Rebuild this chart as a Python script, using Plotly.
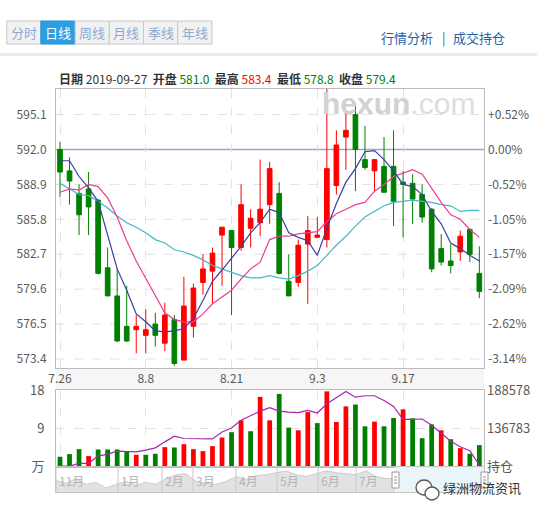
import plotly.graph_objects as go

W, H = 537, 509

# ---------------- data ----------------
dates = ["7.26", "7.29", "7.30", "7.31", "8.1", "8.2", "8.5", "8.6", "8.7", "8.8",
         "8.9", "8.12", "8.13", "8.14", "8.15", "8.16", "8.19", "8.20", "8.21", "8.22",
         "8.23", "8.26", "8.27", "8.28", "8.29", "8.30", "9.2", "9.3", "9.4", "9.5",
         "9.6", "9.9", "9.10", "9.11", "9.12", "9.16", "9.17", "9.18", "9.19", "9.20",
         "9.23", "9.24", "9.25", "9.26", "9.27"]

opens = [592.0, 590.1, 588.1, 588.5, 587.5, 581.5, 579.0, 576.3, 576.0, 575.5,
         576.5, 574.8, 576.9, 573.3, 576.3, 580.2, 581.2, 584.4, 584.8, 583.3,
         585.0, 585.5, 587.1, 588.1, 580.3, 580.2, 583.6, 584.2, 584.0, 588.8,
         593.1, 595.1, 591.1, 590.1, 590.5, 590.5, 589.1, 589.0, 588.0, 586.7,
         583.2, 582.1, 582.9, 584.9, 581.0]
highs = [592.7, 591.3, 588.9, 590.0, 587.6, 583.3, 581.4, 579.9, 577.3, 577.8,
         577.5, 578.4, 577.3, 580.7, 580.1, 582.7, 583.3, 585.1, 584.8, 588.9,
         586.7, 591.1, 590.9, 589.1, 582.7, 584.0, 586.1, 586.0, 597.5, 593.7,
         595.3, 596.1, 594.1, 591.1, 593.1, 593.7, 590.1, 589.8, 588.9, 586.8,
         584.5, 583.6, 584.8, 585.0, 583.4]
lows = [587.8, 587.1, 584.4, 584.4, 580.9, 579.0, 574.9, 574.9, 573.9, 573.9,
        574.5, 574.1, 572.8, 573.3, 575.3, 579.1, 578.3, 579.9, 577.3, 583.0,
        583.3, 584.3, 585.4, 580.9, 579.0, 579.8, 578.3, 584.2, 583.3, 588.0,
        590.2, 588.3, 590.2, 588.2, 588.2, 585.2, 584.2, 585.4, 585.5, 581.1,
        581.7, 581.0, 582.1, 582.0, 578.8]
closes = [590.0, 589.2, 586.2, 586.9, 581.0, 579.0, 575.0, 575.0, 576.3, 576.0,
          575.5, 577.3, 573.0, 578.1, 579.7, 581.4, 582.8, 585.1, 583.3, 587.1,
          585.9, 586.7, 590.3, 581.0, 579.0, 583.5, 584.8, 584.4, 590.3, 592.4,
          593.7, 592.0, 590.4, 591.1, 588.2, 587.4, 588.9, 587.6, 586.0, 581.4,
          582.0, 581.7, 584.3, 582.7, 579.4]

ma5 = [591.0, 591.0, 589.6, 588.6, 587.4, 584.3, 581.4, 579.5, 577.4, 576.7,
       575.9, 575.8, 575.9, 576.1, 577.0, 578.6, 580.3, 581.3, 582.3, 583.4,
       584.6, 585.5, 586.7, 586.4, 584.6, 584.2, 583.9, 582.6, 585.0, 587.2,
       589.1, 590.3, 591.8, 591.9, 591.1, 590.1, 588.9, 588.7, 588.0, 586.5,
       585.4, 583.7, 583.2, 582.6, 582.1]
ma10 = [588.2, 588.5, 588.4, 588.9, 588.7, 587.7, 586.0, 583.9, 582.1, 580.6,
        579.1, 577.5, 576.9, 576.7, 576.7, 577.4, 578.3, 578.9, 579.5, 580.5,
        581.4, 582.0, 584.0, 584.3, 584.3, 584.5, 584.6, 584.7, 585.6, 586.3,
        586.7, 587.1, 587.3, 588.3, 588.9, 589.6, 589.9, 590.2, 589.8, 588.5,
        587.3, 586.2, 585.8, 584.9, 584.2]
ma20 = [589.0, 588.5, 588.0, 587.9, 587.4, 586.8, 586.1, 585.5, 585.1, 584.6,
        584.0, 583.7, 583.1, 582.9, 582.6, 582.2, 581.7, 581.4, 581.1, 580.8,
        580.6, 580.6, 580.8, 580.6, 580.5, 580.8, 581.2, 581.7, 582.6, 583.5,
        584.3, 585.2, 586.0, 586.5, 587.0, 587.3, 587.4, 587.5, 587.4, 587.3,
        587.1, 587.0, 586.5, 586.6, 586.6]

volume_wan = [2.35, 2.98, 4.15, 2.51, 4.07, 4.07, 4.07, 3.68, 2.82, 2.82,
              3.05, 4.62, 4.54, 5.32, 4.15, 3.68, 4.86, 6.9, 8.15, 10.96,
              8.38, 16.5, 10.96, 17.2, 9.24, 8.6, 12.9, 10.3, 17.8, 10.56,
              14.25, 14.7, 9.55, 10.65, 9.55, 11.5, 13.55, 11.43, 6.74, 10.0,
              8.6, 6.5, 4.39, 3.05, 5.1]
volume_up = [0, 0, 0, 1, 0, 0, 0, 0, 1, 0,
             0, 1, 0, 1, 1, 1, 1, 1, 0, 1,
             0, 1, 1, 0, 0, 1, 1, 0, 1, 1,
             1, 0, 0, 1, 0, 0, 1, 0, 0, 0,
             1, 0, 1, 0, 0]
open_interest = [85900, 85900, 89580, 89580, 99440, 102140, 106190, 105250, 105250, 107540,
                 110650, 118750, 126450, 123350, 123350, 122800, 122800, 132260, 137660, 148060,
                 154810, 160620, 165210, 160620, 159270, 158460, 161570, 157920, 170620, 178720,
                 187230, 179530, 181420, 181420, 175070, 166970, 149410, 149410, 149820, 141310,
                 130100, 119700, 112000, 106600, 87280]

prev_settle = 592.0
price_ticks = [573.4, 576.5, 579.6, 582.7, 585.8, 588.9, 592.0, 595.1]
date_ticks = ["7.26", "8.8", "8.21", "9.3", "9.17"]
vol_ticks = [0, 9, 18]
vol_tick_text = ["万", "9", "18"]
oi_ticks = [84988, 136783, 188578]
oi_tick_text = ["持仓", "136783", "188578"]

nav_index = list(range(0, 215, 5))
nav_close = [569, 563, 573, 561, 565, 553, 561, 567, 559, 565,
             561, 573, 581, 583, 567, 563, 561, 567, 577, 571,
             579, 581, 585, 589, 581, 577, 583, 589, 585, 583,
             581, 589, 577, 573, 573, 575, 571, 575, 577, 575,
             573, 575, 573]
nav_months = ["11月", "1月", "2月", "3月", "4月", "5月", "6月", "7月"]
nav_month_pos = [0, 31, 53, 68.5, 90, 110.5, 131, 150]
nav_window_start = 169.5

tabs = ["分时", "日线", "周线", "月线", "季线", "年线"]
active_tab = "日线"
header = {"日期": "2019-09-27", "开盘": "581.0", "最高": "583.4", "最低": "578.8", "收盘": "579.4"}
header_colors = {"日期": "#333333", "开盘": "#008000", "最高": "#ff0000", "最低": "#008000", "收盘": "#008000"}

# ---------------- helpers ----------------
FONT = "Noto Sans CJK SC, Noto Sans, sans-serif"
RED = "#ff0000"
GREEN = "#008000"
GRID = "#e2e2e2"


def fx(px):
    return px / W


def fy(py):
    return 1 - py / H


X0, X1 = 56, 484
MAIN_T, MAIN_B = 89, 368
VOL_T, VOL_B = 390, 467
NAV_B = 492

fig = go.Figure()

fig.add_trace(go.Candlestick(
    x=dates, open=opens, high=highs, low=lows, close=closes,
    increasing=dict(line=dict(color=RED, width=1), fillcolor=RED),
    decreasing=dict(line=dict(color=GREEN, width=1), fillcolor=GREEN),
    whiskerwidth=0, xaxis="x", yaxis="y", hoverinfo="skip"))
fig.add_trace(go.Scatter(x=dates, y=ma20, mode="lines", line=dict(color="#45b8c6", width=1.2),
                         xaxis="x", yaxis="y", hoverinfo="skip"))
fig.add_trace(go.Scatter(x=dates, y=ma10, mode="lines", line=dict(color="#ec3c97", width=1.2),
                         xaxis="x", yaxis="y", hoverinfo="skip"))
fig.add_trace(go.Scatter(x=dates, y=ma5, mode="lines", line=dict(color="#3a3f9e", width=1.2),
                         xaxis="x", yaxis="y", hoverinfo="skip"))
# invisible trace to activate right price axis
fig.add_trace(go.Scatter(x=[dates[0]], y=[prev_settle], mode="markers", marker=dict(opacity=0),
                         xaxis="x", yaxis="y2", hoverinfo="skip"))

fig.add_trace(go.Bar(x=dates, y=volume_wan,
                     marker=dict(color=[RED if u else GREEN for u in volume_up], line=dict(width=0)),
                     width=0.5, xaxis="x2", yaxis="y3", hoverinfo="skip"))
fig.add_trace(go.Scatter(x=dates, y=open_interest, mode="lines", line=dict(color="#a824b0", width=1.2),
                         xaxis="x2", yaxis="y4", hoverinfo="skip"))

fig.add_trace(go.Scatter(x=nav_index, y=nav_close, mode="lines", fill="tozeroy",
                         fillcolor="#e2e2e2", line=dict(color="#cdcdcd", width=1),
                         xaxis="x3", yaxis="y5", hoverinfo="skip"))

grid = dict(showgrid=True, gridcolor=GRID, griddash="dash", gridwidth=1)
border = dict(showline=True, linecolor="#bcbcbc", linewidth=1, mirror=True)
tickf = dict(family=FONT, size=12, color="#5a5a5a")
xr = [-0.42, 44.49]

pct_text = []
for v in price_ticks:
    p = (v / prev_settle - 1) * 100
    pct_text.append("0.00%" if abs(p) < 0.005 else f"{p:+.2f}%")

fig.update_layout(
    width=W, height=H, margin=dict(l=0, r=0, t=0, b=0, pad=0, autoexpand=False),
    paper_bgcolor="white", plot_bgcolor="white", showlegend=False,
    font=dict(family=FONT, size=12, color="#555"),
    xaxis=dict(domain=[fx(X0), fx(X1)], anchor="y", type="category", range=xr,
               tickvals=date_ticks, ticks="", tickfont=tickf, zeroline=False, automargin=False,
               rangeslider=dict(visible=False), fixedrange=True, **grid, **border),
    yaxis=dict(domain=[fy(MAIN_B), fy(MAIN_T)], range=[572.6, 597.37], anchor="x",
               tickvals=price_ticks, ticktext=[f"{v:.1f}" for v in price_ticks], automargin=False,
               ticks="", tickfont=tickf, zeroline=False, ticklabelstandoff=6, showgrid=False,
               **border),
    yaxis2=dict(overlaying="y", side="right", anchor="x", range=[572.6, 597.37], automargin=False,
                tickvals=price_ticks, ticktext=pct_text, ticks="", tickfont=tickf,
                showgrid=False, zeroline=False, showline=False, ticklabelstandoff=3),
    xaxis2=dict(domain=[fx(X0), fx(X1)], anchor="y3", type="category", range=xr, automargin=False,
                tickvals=date_ticks, showticklabels=False, ticks="", zeroline=False,
                fixedrange=True, **grid, **border),
    yaxis3=dict(domain=[fy(VOL_B), fy(VOL_T)], range=[-0.07, 18.12], anchor="x2", automargin=False,
                tickvals=vol_ticks, ticktext=vol_tick_text, ticks="",
                tickfont=dict(family=FONT, size=13, color="#5a5a5a"), zeroline=False,
                ticklabelstandoff=8, **grid, **border),
    yaxis4=dict(overlaying="y3", side="right", anchor="x2", range=[84580, 189258], automargin=False,
                tickvals=oi_ticks, ticktext=oi_tick_text, ticks="",
                tickfont=dict(family=FONT, size=13, color="#5a5a5a"),
                showgrid=False, zeroline=False, showline=False, ticklabelstandoff=2),
    xaxis3=dict(domain=[fx(X0), fx(X1)], anchor="y5", range=[0, 214], showticklabels=False,
                automargin=False,
                showgrid=False, zeroline=False, ticks="", showline=True, linecolor="#c4c4c4", mirror=True),
    yaxis5=dict(domain=[fy(NAV_B), fy(VOL_B)], range=[545, 597], anchor="x3", showticklabels=False,
                automargin=False,
                showgrid=False, zeroline=False, ticks="", showline=True, linecolor="#c4c4c4", mirror=True),
)

shapes = []
annotations = []

# light blue band under tabs
shapes.append(dict(type="rect", xref="paper", yref="paper", x0=0, x1=1, y0=fy(56), y1=fy(53),
                   fillcolor="#e3eef8", line=dict(width=0), layer="below"))
# tabs
tab_w = 34.2
for i, t in enumerate(tabs):
    a = 6.7 + tab_w * i
    b = a + tab_w
    active = (t == active_tab)
    shapes.append(dict(type="rect", xref="paper", yref="paper", x0=fx(a), x1=fx(b),
                       y0=fy(44), y1=fy(21),
                       fillcolor="#2a9fe3" if active else "#f1f1f1",
                       line=dict(color="#1f8fd6" if active else "#c8c8c8", width=1), layer="below"))
    annotations.append(dict(x=fx((a + b) / 2), y=fy(33), xref="paper", yref="paper",
                            text=t, showarrow=False, xanchor="center", yanchor="middle",
                            font=dict(family=FONT, size=13, color="white" if active else "#8eaad0")))
# right links
for txt, cx in [("行情分析", 407), ("|", 444), ("成交持仓", 479)]:
    annotations.append(dict(x=fx(cx), y=fy(37), xref="paper", yref="paper", text=txt,
                            showarrow=False, xanchor="center", yanchor="middle",
                            font=dict(family=FONT, size=13, color="#1f5fa8")))
# header info
parts = []
for k, v in header.items():
    parts.append(f"<b>{k}</b> <span style='color:{header_colors[k]}'>{v}</span>")
annotations.append(dict(x=fx(57), y=fy(78), xref="paper", yref="paper",
                        text="&nbsp;&nbsp;".join(parts),
                        showarrow=False, xanchor="left", yanchor="middle",
                        font=dict(family=FONT, size=12, color="#333")))
# watermark
annotations.append(dict(x=fx(320), y=fy(104), xref="paper", yref="paper",
                        text="<b>hexun</b><span style='color:#dedede'>.com</span>",
                        showarrow=False, xanchor="left", yanchor="middle",
                        font=dict(family="Liberation Sans, Arial, sans-serif", size=30, color="#d2d2d2")))
# horizontal price grid (dashed) and previous settlement line (solid)
for v in price_ticks:
    if v == prev_settle:
        shapes.append(dict(type="line", xref="x domain", yref="y", x0=0, x1=1, y0=v, y1=v,
                           line=dict(color="#97a8cc", width=1.5), layer="below"))
    else:
        shapes.append(dict(type="line", xref="x domain", yref="y", x0=0, x1=1, y0=v, y1=v,
                           line=dict(color=GRID, width=1, dash="dash"), layer="below"))
# x label strip
shapes.append(dict(type="rect", xref="paper", yref="paper", x0=fx(X0), x1=fx(X1),
                   y0=fy(VOL_T), y1=fy(MAIN_B), fillcolor="#f6f6f6", line=dict(width=0), layer="below"))
# navigator months
for m, p in zip(nav_months, nav_month_pos):
    shapes.append(dict(type="line", xref="x3", yref="paper", x0=p, x1=p, y0=fy(NAV_B), y1=fy(VOL_B),
                       line=dict(color="#c9c9c9", width=1)))
    annotations.append(dict(x=p, y=fy(480), xref="x3", yref="paper", text=m, showarrow=False,
                            xanchor="left", yanchor="middle", xshift=1,
                            font=dict(family=FONT, size=12, color="#b4b4b4")))
# navigator selected window
shapes.append(dict(type="rect", xref="x3", yref="paper", x0=nav_window_start, x1=214,
                   y0=fy(NAV_B), y1=fy(VOL_B), fillcolor="#eaf6fb", line=dict(width=0), opacity=0.95))
for hx in [392, 481]:
    shapes.append(dict(type="rect", xref="paper", yref="paper", x0=fx(hx), x1=fx(hx + 7),
                       y0=fy(488), y1=fy(472), fillcolor="#fbfbfb", line=dict(color="#9a9a9a", width=1)))
    for ly in [477, 480, 483]:
        shapes.append(dict(type="line", xref="paper", yref="paper", x0=fx(hx + 2), x1=fx(hx + 5),
                           y0=fy(ly), y1=fy(ly), line=dict(color="#9a9a9a", width=1)))
# WeChat-style watermark
shapes.append(dict(type="circle", xref="paper", yref="paper", x0=fx(416), x1=fx(432),
                   y0=fy(495), y1=fy(480), fillcolor="white", line=dict(color="#555", width=1.3)))
shapes.append(dict(type="circle", xref="paper", yref="paper", x0=fx(425), x1=fx(439),
                   y0=fy(500), y1=fy(487), fillcolor="white", line=dict(color="#555", width=1.3)))
annotations.append(dict(x=fx(482), y=fy(487), xref="paper", yref="paper", text="绿洲物流资讯",
                        showarrow=False, xanchor="center", yanchor="middle",
                        font=dict(family=FONT, size=13, color="#333")))

fig.update_layout(shapes=shapes, annotations=annotations)
fig.write_html("out.html")
